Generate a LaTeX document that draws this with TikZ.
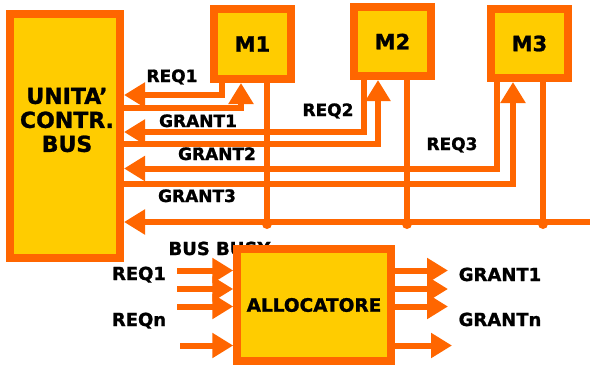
\documentclass[tikz,border=0pt]{standalone}
\usepackage{fontspec}
\setmainfont{DejaVu Sans}[BoldFeatures={FakeBold=1.2}]
\usetikzlibrary{arrows.meta}
\definecolor{busorange}{HTML}{FF6600}
\definecolor{boxyellow}{HTML}{FFCC00}

\begin{document}
\begin{tikzpicture}[x=1pt,y=-1pt,
    every node/.style={font=\bfseries\fontsize{17}{20}\selectfont},
    unit/.style={draw=busorange,fill=boxyellow,line width=8pt,inner sep=0pt},
    bigtext/.style={font=\bfseries\fontsize{21}{24}\selectfont},
    lowtext/.style={font=\bfseries\fontsize{18}{21}\selectfont},
    sig/.style={draw=busorange,line width=6pt},
    sigarrow/.style={sig,-{Triangle[length=21pt,width=24pt]}}]
  \useasboundingbox (0,0) rectangle (590,365);

  % unita' di controllo e moduli
  \node[unit,minimum width=110pt,minimum height=244pt] (ucb) at (65,136) {};
  \node[bigtext,font=\bfseries\fontsize{22}{24}\selectfont,align=center] (ucbtext) at (67,120) {UNITA’\\CONTR.\\BUS};
  \node[unit,bigtext,minimum width=77pt,minimum height=70pt] (m1) at (252.5,44) {M1};
  \node[unit,bigtext,minimum width=77pt,minimum height=69pt] (m2) at (392.5,41.5) {M2};
  \node[unit,bigtext,minimum width=77pt,minimum height=69pt] (m3) at (529.5,43.5) {M3};

  % punti di piega delle linee REQ/GRANT e del bus
  \coordinate (req1) at (222,95);
  \coordinate (gnt1) at (241,108);
  \coordinate (req2) at (364,132);
  \coordinate (gnt2) at (378,143.5);
  \coordinate (req3) at (497,168.5);
  \coordinate (gnt3) at (513,183.5);
  \coordinate (busend) at (590,222);
  \coordinate (j1) at (267,222);
  \coordinate (j2) at (407,222);
  \coordinate (j3) at (543,222);

  \draw[sigarrow] (m1.south -| req1) |- (ucb.east |- req1);
  \draw[sigarrow] (ucb.east |- gnt1) -| (m1.south -| gnt1);
  \draw[sigarrow] (m2.south -| req2) |- (ucb.east |- req2);
  \draw[sigarrow] (ucb.east |- gnt2) -| (m2.south -| gnt2);
  \draw[sigarrow] (m3.south -| req3) |- (ucb.east |- req3);
  \draw[sigarrow] (ucb.east |- gnt3) -| (m3.south -| gnt3);
  \draw[sigarrow] (busend) -- (ucb.east |- busend);
  \foreach \m/\j in {m1/j1,m2/j2,m3/j3} {
    \draw[sig] (\m.south -| \j) -- (\j);
    \fill[busorange] (\j) ++(0,2) circle (5pt);
  }

  \node[anchor=base] (lreq1) at (172,82) {REQ1};
  \node[anchor=base] (lgnt1) at (198,127) {GRANT1};
  \node[anchor=base] (lreq2) at (328,116) {REQ2};
  \node[anchor=base] (lgnt2) at (217,160) {GRANT2};
  \node[anchor=base] (lreq3) at (452,150) {REQ3};
  \node[anchor=base] (lgnt3) at (197,202) {GRANT3};

  % allocatore
  \node[lowtext,anchor=base west] (lbusy) at (165,255) {BUS BUSY};
  \node[unit,lowtext,font=\bfseries\fontsize{18.5}{21}\selectfont,
        minimum width=153.5pt,minimum height=112.5pt] (alloc) at (314,305) {ALLOCATORE};

  \foreach \y [count=\i] in {270.5,289,306.5} {
    \coordinate (in\i) at (177,\y);
    \coordinate (out\i) at (448,\y);
  }
  \coordinate (in4) at (180,345.5);
  \coordinate (out4) at (452,345.5);
  \foreach \i in {1,...,4} {
    \draw[sigarrow] (in\i) -- (alloc.west |- in\i);
    \draw[sigarrow] (alloc.east |- out\i) -- (out\i);
  }

  \node[lowtext,anchor=base] (lreqa) at (139,280) {REQ1};
  \node[lowtext,anchor=base] (lreqn) at (139,326) {REQn};
  \node[lowtext,anchor=base] (lgnta) at (500,281) {GRANT1};
  \node[lowtext,anchor=base] (lgntn) at (500,326) {GRANTn};
\end{tikzpicture}
\end{document}
